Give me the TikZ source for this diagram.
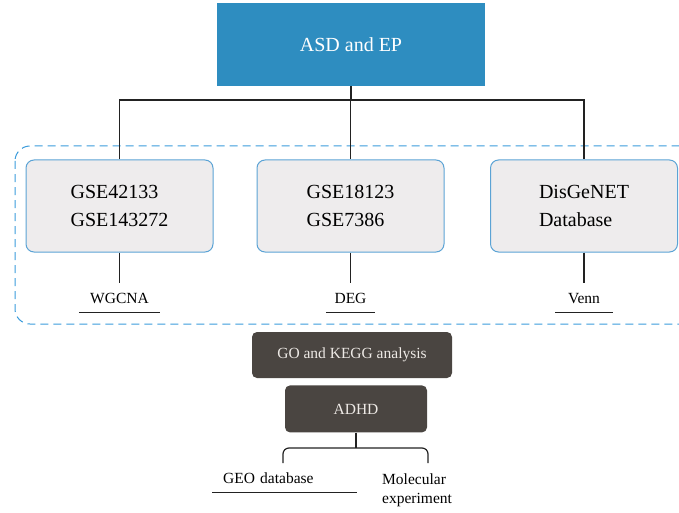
\documentclass[tikz,border=0pt]{standalone}
\usepackage{fontspec}
\setmainfont{Liberation Serif}
\usepackage{xcolor}
\usetikzlibrary{positioning}
\definecolor{asdblue}{HTML}{2E8DC0}
\definecolor{boxgrey}{HTML}{EEECED}
\definecolor{boxline}{HTML}{5BA3D5}
\definecolor{dashblue}{HTML}{3A9BDB}
\definecolor{darkbox}{HTML}{4A4541}
\definecolor{paletext}{HTML}{EEEAE6}
\definecolor{linegrey}{HTML}{222222}

\begin{document}
\begin{tikzpicture}[x=1pt, y=-1pt,
  topbox/.style={
    fill=asdblue, text=white, inner sep=0,
    minimum width=268pt, minimum height=83pt, font=\fontsize{20}{24}\selectfont
  },
  databox/.style={
    draw=boxline, line width=1pt, fill=boxgrey, rounded corners=8pt,
    align=left, inner sep=0, minimum width=187pt, minimum height=92pt,
    font=\fontsize{20}{28}\selectfont
  },
  darkbox/.style={
    fill=darkbox, text=paletext, rounded corners=5pt, inner sep=0,
    font=\fontsize{15.5}{18}\selectfont
  },
  method/.style={
    anchor=base, inner sep=0, text height=20pt, text depth=9pt,
    font=\fontsize{15.5}{18}\selectfont
  },
  link/.style={linegrey, line width=1.2pt},
  uline/.style={linegrey, line width=1pt}
]
\useasboundingbox (0,0) rectangle (679,513);

% dashed frame round the three sources
\draw[dashblue, line width=1pt, dash pattern=on 8pt off 5pt, rounded corners=15pt]
  (15,146) rectangle (700,324);

\node[topbox] (asd) at (351,44.5) {ASD and EP};

\node[databox] (gse1) at (119.5,206) {GSE42133\\GSE143272};
\node[databox] (gse2) at (350.5,206) {GSE18123\\GSE7386};
\node[databox] (disg) at (584,206) {DisGeNET\\Database};

\node[method, minimum width=81pt] (wgcna) at (119.5,303) {WGCNA};
\node[method, minimum width=49pt] (deg) at (350.5,303) {DEG};
\node[method, minimum width=57pt] (venn) at (584,303) {Venn};

\node[darkbox, minimum width=200pt, minimum height=46pt] (goan) at (352,355) {GO and KEGG analysis};
\node[darkbox, minimum width=142pt, minimum height=47pt, below=7pt of goan, xshift=4pt] (adhd) {ADHD};

\node[anchor=base west, inner sep=0, text width=145pt, text depth=9pt, align=left,
  font=\fontsize{15.5}{18}\selectfont] (geo) at (212,483) {\hspace*{11pt}GEO database};
\node[anchor=base west, inner sep=0, align=left,
  font=\fontsize{15.5}{18.5}\selectfont] (molec) at (382,503) {Molecular\\experiment};

% connectors
\coordinate (split) at (351,100);
\draw[link] (asd) -- (split);
\draw[link] (gse1.north) |- (split) -| (disg.north);
\draw[link] (split -| gse2.north) -- (gse2.north);

\draw[link] (gse1) -- (wgcna);
\draw[link] (gse2) -- (deg);
\draw[link] (disg) -- (venn);

\draw[uline] (wgcna.south west) -- (wgcna.south east);
\draw[uline] (deg.south west) -- (deg.south east);
\draw[uline] (venn.south west) -- (venn.south east);
\draw[uline] (geo.south west) -- (geo.south east);

\coordinate (fork) at (356,448);
\coordinate (geoend) at (283,463);
\coordinate (molend) at (428,463);
\draw[link] (adhd) -- (fork);
\draw[link, rounded corners=6pt] (geoend) |- (fork) -| (molend);
\end{tikzpicture}
\end{document}
